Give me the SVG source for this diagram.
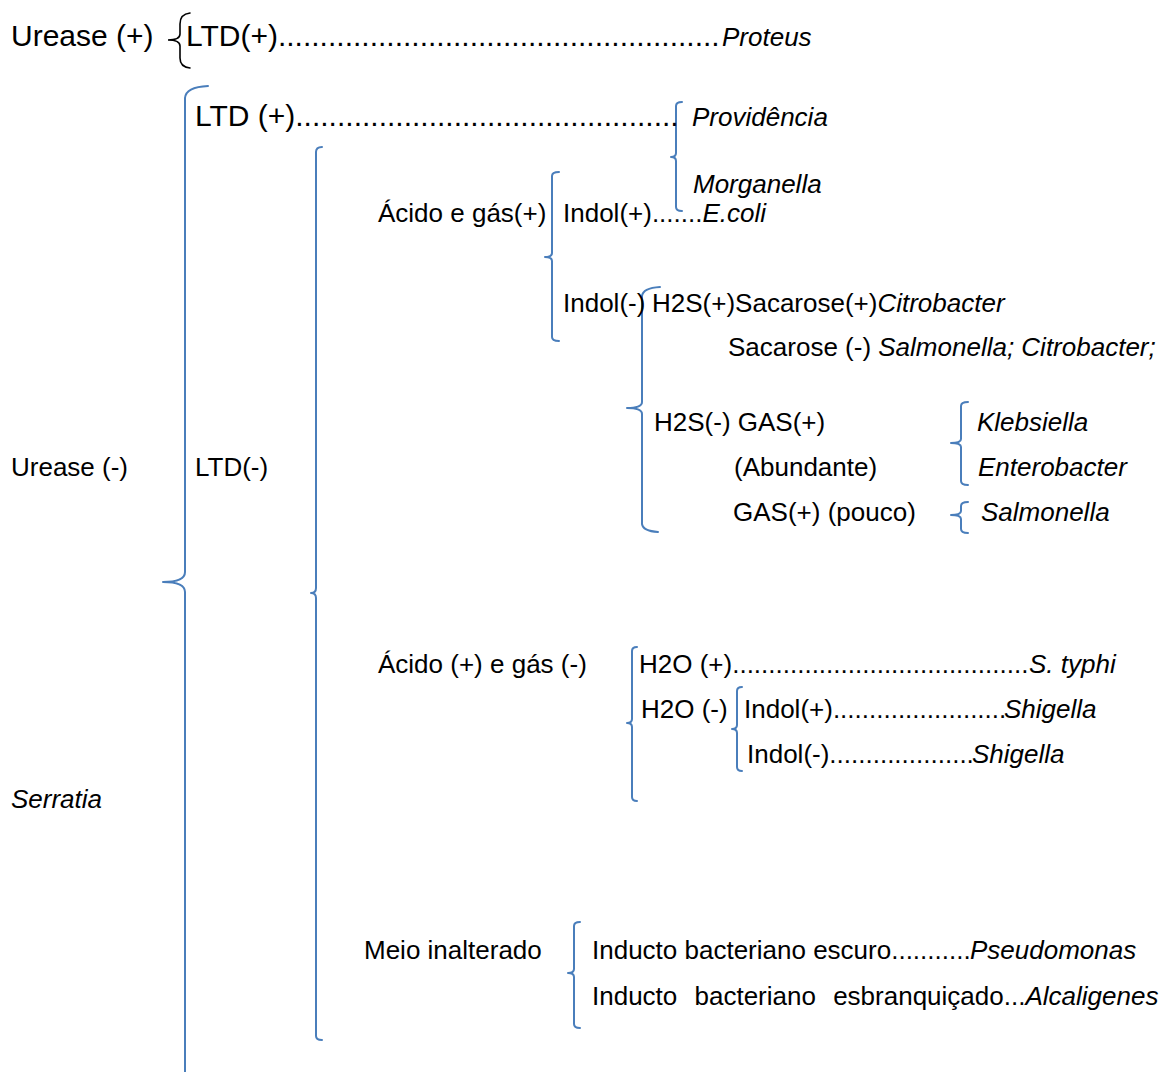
<svg xmlns="http://www.w3.org/2000/svg" width="1166" height="1072" viewBox="0 0 1166 1072">
<style>
text{font-family:"Liberation Sans",Arial,sans-serif;fill:#000}
.L{font-size:30px}
.S{font-size:26px}
.i{font-style:italic}
.br{fill:none;stroke:#4A7EBB;stroke-width:2;stroke-linecap:round;stroke-linejoin:round}
.bk{fill:none;stroke:#000;stroke-width:1.6;stroke-linecap:round}
</style>
<rect width="1166" height="1072" fill="#fff"/>
<g id="connectors">
<path class="bk" d="M190,13 Q180,14 180,24 L180,34 Q180,40 168,40 Q180,40 180,46 L180,58 Q180,67 190,68"/>
<path class="br" d="M208,86 Q186,87 185,98 L185,572 Q185,582 163,582 Q185,582 185,592 L185,1080"/>
<path class="br" d="M322,147 Q316,147 316,152 L316,588 Q316,593 311,593 Q316,593 316,598 L316,1036 Q316,1040 322,1040"/>
<path class="br" d="M682,102 Q676,102 676,106 L676,153 Q676,157 671,157 Q676,157 676,161 L676,207 Q676,211 682,211"/>
<path class="br" d="M559,172 Q552,172 552,176 L552,253 Q552,257 545,257 Q552,257 552,261 L552,337 Q552,341 559,341"/>
<path class="br" d="M660,287 Q643,288 642,296 L642,402 Q642,408 627,408 Q642,408 642,414 L642,524 Q643,531 658,532"/>
<path class="br" d="M968,402 Q961,402 961,406 L961,439 Q961,443 951,443 Q961,443 961,447 L961,481 Q961,485 968,485"/>
<path class="br" d="M968,502 Q961,502 961,506 L961,511 Q961,515 951,515 Q961,515 961,519 L961,529 Q961,533 968,533"/>
<path class="br" d="M637,647 Q632,647 632,651 L632,719 Q632,723 627,723 Q632,723 632,727 L632,797 Q632,801 637,801"/>
<path class="br" d="M742,687 Q737,687 737,691 L737,725 Q737,729 732,729 Q737,729 737,733 L737,767 Q737,771 742,771"/>
<path class="br" d="M580,922 Q574,922 574,926 L574,969 Q574,973 568,973 Q574,973 574,977 L574,1024 Q574,1028 580,1028"/>
</g>
<g id="n-urease-pos"><text class="L" x="11" y="46">Urease (+)</text></g>
<g id="n-ltd-pos-proteus"><text class="L" x="186" y="46">LTD(+).....................................................</text><text class="S i" x="722" y="46">Proteus</text></g>
<g id="n-ltd-pos-2"><text class="L" x="195" y="126">LTD (+)..............................................</text></g>
<g id="n-providencia"><text class="S i" x="692" y="126">Providência</text><text class="S i" x="693" y="193">Morganella</text></g>
<g id="n-urease-neg"><text class="S" x="11" y="476">Urease (-)</text></g>
<g id="n-ltd-neg"><text class="S" x="195" y="476">LTD(-)</text></g>
<g id="n-serratia"><text class="S i" x="11" y="808">Serratia</text></g>
<g id="n-acido-gas"><text class="S" x="378" y="222">Ácido e gás(+)</text></g>
<g id="n-indol-pos"><text class="S" x="563" y="222">Indol(+).......<tspan class="i">E.coli</tspan></text></g>
<g id="n-indol-neg"><text class="S" x="563" y="312">Indol(-)</text></g>
<g id="n-h2s-pos"><text class="S" x="652" y="312">H2S(+)Sacarose(+)<tspan class="i">Citrobacter</tspan></text><text class="S" x="728" y="356">Sacarose (-) <tspan class="i">Salmonella; Citrobacter;</tspan></text></g>
<g id="n-h2s-neg"><text class="S" x="654" y="431">H2S(-) GAS(+)</text><text class="S" x="734" y="476">(Abundante)</text><text class="S" x="733" y="521">GAS(+) (pouco)</text></g>
<g id="n-klebsiella"><text class="S i" x="977" y="431">Klebsiella</text><text class="S i" x="978" y="476">Enterobacter</text></g>
<g id="n-salmonella"><text class="S i" x="981" y="521">Salmonella</text></g>
<g id="n-acido-gas-neg"><text class="S" x="378" y="673">Ácido (+) e gás (-)</text></g>
<g id="n-h2o-pos"><text class="S" x="639" y="673">H2O (+).........................................</text><text class="S i" x="1029" y="673">S. typhi</text></g>
<g id="n-h2o-neg"><text class="S" x="641" y="718">H2O (-)</text></g>
<g id="n-indol-pos-2"><text class="S" x="744" y="718">Indol(+)........................</text><text class="S i" x="1004" y="718">Shigella</text></g>
<g id="n-indol-neg-2"><text class="S" x="747" y="763">Indol(-)....................</text><text class="S i" x="972" y="763">Shigella</text></g>
<g id="n-meio"><text class="S" x="364" y="959">Meio inalterado</text></g>
<g id="n-pseudomonas"><text class="S" x="592" y="959">Inducto bacteriano escuro...........</text><text class="S i" x="970" y="959">Pseudomonas</text></g>
<g id="n-alcaligenes"><text class="S" x="592" y="1005" word-spacing="10">Inducto bacteriano esbranquiçado...<tspan class="i">Alcaligenes</tspan></text></g>
</svg>
